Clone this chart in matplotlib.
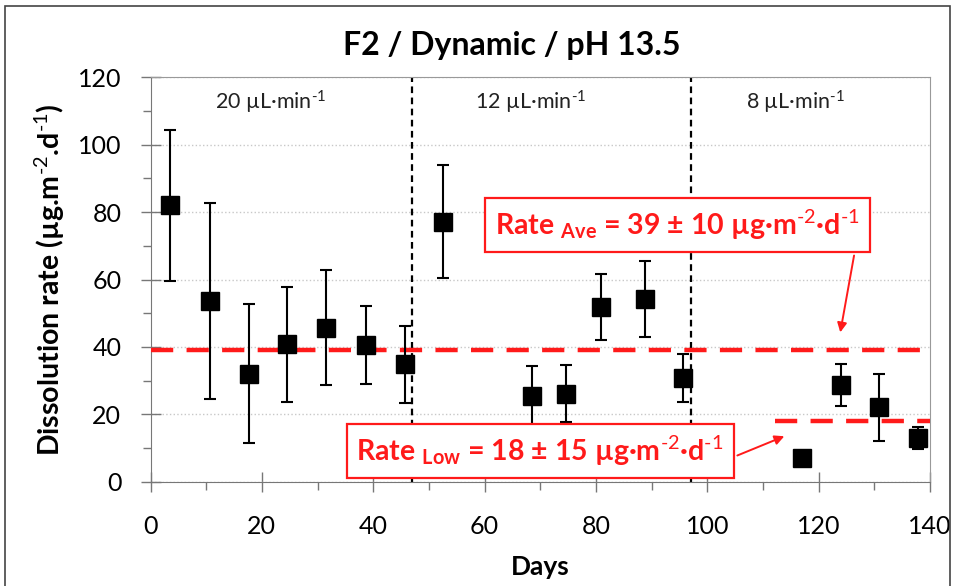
import matplotlib
matplotlib.use('Agg')
import matplotlib.pyplot as plt
from matplotlib.patches import Rectangle

plt.rcParams['font.family'] = ['Lato', 'DejaVu Sans']
plt.rcParams['mathtext.fontset'] = 'custom'
plt.rcParams['mathtext.rm'] = 'Lato'
plt.rcParams['mathtext.bf'] = 'Lato:bold'
plt.rcParams['mathtext.default'] = 'regular'

# dissolution measurements
days = [3.5, 10.7, 17.7, 24.6, 31.5, 38.7, 45.7, 52.6, 68.6, 74.6, 80.9, 88.8, 95.7, 117.0, 124.0, 130.9, 137.8]
rate = [82.0, 53.6, 32.1, 40.8, 45.7, 40.5, 34.8, 77.2, 25.3, 26.1, 51.8, 54.2, 30.8, 7.0, 28.8, 22.1, 13.0]
rate_err = [22.4, 29.1, 20.5, 17.1, 17.1, 11.6, 11.3, 16.7, 8.9, 8.5, 9.8, 11.2, 7.2, 0.0, 6.2, 10.0, 3.2]

# flow rate changes and labels
flow_changes = [46.9, 97.1]
flow_labels = ['20 µL·min$^{\\text{-1}}$', '12 µL·min$^{\\text{-1}}$', '8 µL·min$^{\\text{-1}}$']
flow_label_x = [21.5, 68.2, 115.9]

rate_ave, rate_ave_sd = 39, 10
rate_low, rate_low_sd = 18, 15
low_start = 112.2

fig = plt.figure(figsize=(9.55, 5.86), dpi=100)
ax = fig.add_axes([0.1576, 0.178, 0.8162, 0.69])

# figure border
fig.patches.append(Rectangle((0.005, -0.01), 0.99, 1.0, transform=fig.transFigure,
                             fill=False, edgecolor='#444444', linewidth=1.2))

ax.set_xlim(0, 140)
ax.set_ylim(0, 120)
ax.set_xticks(range(0, 141, 20))
ax.set_yticks(range(0, 121, 20))
ax.set_xticks(range(10, 141, 20), minor=True)
ax.set_yticks(range(10, 121, 20), minor=True)
ax.tick_params(which='major', direction='inout', length=14, width=1, color='#777777',
               labelsize=18)
ax.tick_params(which='minor', direction='out', length=5.5, width=1, color='#777777')
ax.tick_params(axis='x', which='major', pad=17)
ax.tick_params(axis='y', which='major', pad=14)
for s in ax.spines.values():
    s.set_color('#999999')
ax.spines['left'].set_color('#777777')
ax.spines['bottom'].set_color('#777777')
ax.yaxis.grid(True, color='#c8c8c8', linestyle=':', linewidth=1)
ax.set_axisbelow(True)

for xc in flow_changes:
    ax.axvline(xc, color='black', linestyle=(0, (3, 2)), linewidth=1.6, zorder=2)

for lab, xl in zip(flow_labels, flow_label_x):
    ax.text(xl, 112.5, lab, ha='center', va='center', fontsize=15.5, color='#222222')

ax.hlines(rate_ave, 0, 140, colors='#ff1a1a', linestyles=(0, (5, 3)), linewidth=3.2, zorder=3)
ax.hlines(rate_low, low_start, 140, colors='#ff1a1a', linestyles=(0, (5, 3)), linewidth=3.2, zorder=3)

ax.errorbar(days, rate, yerr=rate_err, fmt='s', color='black', markersize=13,
            ecolor='black', elinewidth=1.5, capsize=4, capthick=1.5, zorder=5)

ave_txt = ('Rate $\\mathbf{_{Ave}}$ = %d ± %d µg·m$^{\\text{-2}}$·d$^{\\text{-1}}$'
           % (rate_ave, rate_ave_sd))
low_txt = ('Rate $\\mathbf{_{Low}}$ = %d ± %d µg·m$^{\\text{-2}}$·d$^{\\text{-1}}$'
           % (rate_low, rate_low_sd))
box = dict(boxstyle='square,pad=0.35', facecolor='white', edgecolor='#ff1a1a', linewidth=1.6)
arrow = dict(arrowstyle='-|>', color='#ff1a1a', lw=1.4, mutation_scale=14)

ax.annotate(ave_txt, xy=(123.8, rate_ave + 4.5), xytext=(94.7, 76.2), ha='center', va='center',
            fontsize=20.5, fontweight='bold', color='#ff1a1a', bbox=box, zorder=6,
            arrowprops=dict(arrow, relpos=(0.99, 0.0)))
ax.annotate(low_txt, xy=(114.3, rate_low - 4.2), xytext=(70.0, 9.2), ha='center', va='center',
            fontsize=20.5, fontweight='bold', color='#ff1a1a', bbox=box, zorder=6,
            arrowprops=dict(arrow, relpos=(1.0, 0.2)))

fig.text(0.536, 0.923, 'F2 / Dynamic / pH 13.5', fontsize=23, fontweight='bold',
         ha='center', va='center')
ax.set_xlabel('Days', fontsize=19, fontweight='bold', labelpad=12)
ax.set_ylabel('Dissolution rate (µg.m$^{\\text{-2}}$.d$^{\\text{-1}}$)', fontsize=20.5,
              fontweight='bold', labelpad=8)

fig.savefig('out.png', dpi=100)
